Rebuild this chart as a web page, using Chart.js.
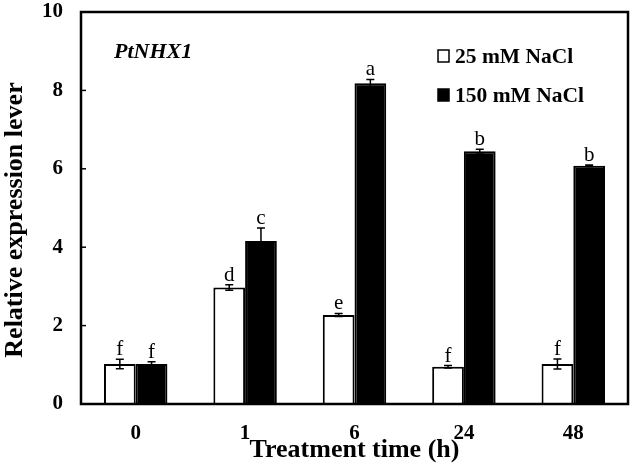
<!DOCTYPE html>
<html>
<head>
<meta charset="utf-8">
<script src="https://cdn.jsdelivr.net/npm/chart.js@4/dist/chart.umd.min.js"></script>
<style>
  body { margin: 0; background: #fff; }
</style>
</head>
<body>
<canvas id="chart" width="633" height="470"></canvas>
<script>
// Treatment time (h) categories and relative expression values
const times = ["0", "1", "6", "24", "48"];
const low = [1.02, 2.97, 2.27, 0.95, 1.02];      // 25 mM NaCl
const high = [1.02, 4.16, 8.18, 6.45, 6.08];     // 150 mM NaCl
const lowErr = [0.12, 0.07, 0.04, 0.03, 0.13];
const highErr = [0.06, 0.33, 0.10, 0.05, 0.02];
const lowLetters = ["f", "d", "e", "f", "f"];
const highLetters = ["f", "c", "a", "b", "b"];
const yTicks = [0, 2, 4, 6, 8, 10];

const SERIF = "'Liberation Serif', 'DejaVu Serif', serif";
const errors = [lowErr, highErr];
const letters = [lowLetters, highLetters];

const extras = {
  id: "extras",
  afterDatasetsDraw(chart) {
    const { ctx, chartArea: a, scales: { y } } = chart;
    ctx.save();
    ctx.strokeStyle = "#000";
    ctx.fillStyle = "#000";
    chart.data.datasets.forEach((ds, i) => {
      chart.getDatasetMeta(i).data.forEach((bar, j) => {
        const v = ds.data[j], e = errors[i][j];
        const top = y.getPixelForValue(v + e), bot = y.getPixelForValue(v - e);
        ctx.lineWidth = 1.5;
        ctx.beginPath();
        ctx.moveTo(bar.x, top); ctx.lineTo(bar.x, bot);
        ctx.moveTo(bar.x - 4, top); ctx.lineTo(bar.x + 4, top);
        ctx.moveTo(bar.x - 4, bot); ctx.lineTo(bar.x + 4, bot);
        ctx.stroke();
        ctx.font = "21px " + SERIF;
        ctx.textAlign = "center";
        ctx.textBaseline = "alphabetic";
        ctx.fillText(letters[i][j], bar.x, top - 4);
      });
    });

    // inward y ticks
    ctx.lineWidth = 1.5;
    yTicks.slice(1, -1).forEach((t) => {
      const py = y.getPixelForValue(t);
      ctx.beginPath();
      ctx.moveTo(a.left, py); ctx.lineTo(a.left + 5, py);
      ctx.stroke();
    });

    // frame
    ctx.lineWidth = 2.5;
    ctx.strokeRect(a.left, a.top, a.right - a.left, a.bottom - a.top);

    // gene name
    ctx.font = "italic bold 22px " + SERIF;
    ctx.textAlign = "left";
    ctx.textBaseline = "middle";
    ctx.fillText("PtNHX1", 114, 52);

    // legend
    ctx.font = "bold 21.5px " + SERIF;
    const rows = [56, 95];
    chart.data.datasets.forEach((ds, i) => {
      const cy = rows[i];
      ctx.fillStyle = ds.backgroundColor;
      ctx.fillRect(438, cy - 6, 11, 12);
      ctx.lineWidth = 1.5;
      ctx.strokeRect(438, cy - 6, 11, 12);
      ctx.fillStyle = "#000";
      ctx.fillText(ds.label, 455, cy + 1);
    });

    // y axis title
    ctx.save();
    ctx.translate(15, 220);
    ctx.rotate(-Math.PI / 2);
    ctx.font = "bold 26px " + SERIF;
    ctx.textAlign = "center";
    ctx.textBaseline = "middle";
    ctx.fillText("Relative expression lever", 0, 0);
    ctx.restore();

    ctx.restore();
  },
};

new Chart(document.getElementById("chart"), {
  type: "bar",
  data: {
    labels: times,
    datasets: [
      { label: "25 mM NaCl", data: low, backgroundColor: "#ffffff",
        borderColor: "#000000", borderWidth: 2 },
      { label: "150 mM NaCl", data: high, backgroundColor: "#000000",
        borderColor: "#000000", borderWidth: 2 },
    ],
  },
  options: {
    responsive: false,
    animation: false,
    layout: { padding: { left: 0, right: 5, top: 12, bottom: 0 } },
    datasets: { bar: { categoryPercentage: 0.58, barPercentage: 1 } },
    plugins: { legend: { display: false }, tooltip: { enabled: false } },
    scales: {
      x: {
        afterFit: (s) => { s.height = 66; s.paddingLeft = 0; s.paddingRight = 0; },
        grid: { display: false, drawTicks: false },
        border: { display: false },
        ticks: { color: "#000", padding: 17, font: { family: SERIF, size: 21, weight: "bold" } },
        title: { display: true, text: "Treatment time (h)", color: "#000",
          padding: { top: 0, bottom: 4 }, font: { family: SERIF, size: 26, weight: "bold" } },
      },
      y: {
        min: 0, max: 10,
        afterFit: (s) => { s.width = 81; s.paddingTop = 0; s.paddingBottom = 0; },
        afterBuildTicks: (s) => { s.ticks = yTicks.map((v) => ({ value: v })); },
        grid: { display: false, drawTicks: false },
        border: { display: false },
        ticks: { color: "#000", padding: 18, font: { family: SERIF, size: 21, weight: "bold" } },
      },
    },
  },
  plugins: [extras],
});
</script>
</body>
</html>
